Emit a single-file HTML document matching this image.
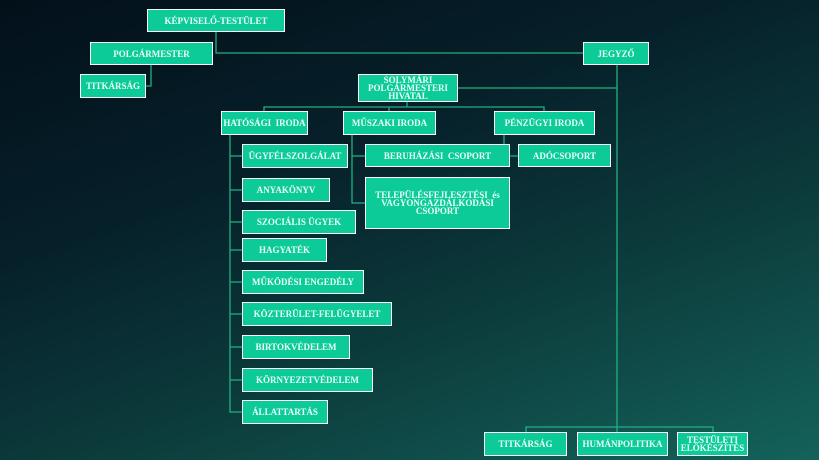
<!DOCTYPE html>
<html><head><meta charset="utf-8"><style>
body{margin:0;width:819px;height:460px;overflow:hidden;position:relative;
background:linear-gradient(160deg,#03101a 0%,#06202a 35%,#0c3c3c 65%,#14625b 100%);
font-family:"Liberation Serif","DejaVu Serif",serif;}
.b{position:absolute;background:#0ccb98;border:1.5px solid #fff;box-sizing:border-box;color:#eafff6;font-weight:bold;font-size:9px;display:flex;align-items:center;justify-content:center;text-align:center;line-height:8px;white-space:nowrap}
svg{position:absolute;left:0;top:0}
</style></head><body>
<svg width="819" height="460"><g stroke="#22b080" stroke-width="1.3" fill="none">
<path d="M216 32V53H583"/>
<path d="M151 65V86H146"/>
<path d="M617 65V427M458 88H617"/>
<path d="M526 432V427H713V432M617 427V432"/>
<path d="M407 102V107M264 111V107H544V111M389 107V111"/>
<path d="M230 135V412H242M230 156H242M230 190H242M230 222H242M230 250H242M230 282H242M230 314H242M230 347H242M230 380H242"/>
<path d="M352 135V203H365M352 156H365"/>
<path d="M504 135V144M510 156H518"/>
</g></svg>
<div class="b" style="left:147px;top:9px;width:138px;height:23px">KÉPVISELŐ-TESTÜLET</div>
<div class="b" style="left:90px;top:42px;width:123px;height:23px">POLGÁRMESTER</div>
<div class="b" style="left:80px;top:74px;width:66px;height:24px">TITKÁRSÁG</div>
<div class="b" style="left:583px;top:42px;width:66px;height:23px">JEGYZŐ</div>
<div class="b" style="left:358px;top:74px;width:100px;height:28px">SOLYMÁRI<br>POLGÁRMESTERI<br>HIVATAL</div>
<div class="b" style="left:221px;top:111px;width:87px;height:24px">HATÓSÁGI&nbsp; IRODA</div>
<div class="b" style="left:343px;top:111px;width:93px;height:24px">MŰSZAKI IRODA</div>
<div class="b" style="left:494px;top:111px;width:101px;height:24px">PÉNZÜGYI IRODA</div>
<div class="b" style="left:242px;top:144px;width:106px;height:24px">ÜGYFÉLSZOLGÁLAT</div>
<div class="b" style="left:242px;top:178px;width:88px;height:24px">ANYAKÖNYV</div>
<div class="b" style="left:242px;top:210px;width:114px;height:24px">SZOCIÁLIS ÜGYEK</div>
<div class="b" style="left:242px;top:238px;width:85px;height:24px">HAGYATÉK</div>
<div class="b" style="left:242px;top:270px;width:122px;height:24px">MŰKÖDÉSI ENGEDÉLY</div>
<div class="b" style="left:242px;top:302px;width:150px;height:24px">KÖZTERÜLET-FELÜGYELET</div>
<div class="b" style="left:242px;top:335px;width:108px;height:24px">BIRTOKVÉDELEM</div>
<div class="b" style="left:242px;top:368px;width:131px;height:24px">KÖRNYEZETVÉDELEM</div>
<div class="b" style="left:242px;top:400px;width:86px;height:24px">ÁLLATTARTÁS</div>
<div class="b" style="left:365px;top:144px;width:145px;height:23px">BERUHÁZÁSI&nbsp; CSOPORT</div>
<div class="b" style="left:518px;top:144px;width:93px;height:23px">ADÓCSOPORT</div>
<div class="b" style="left:365px;top:177px;width:145px;height:52px">TELEPÜLÉSFEJLESZTÉSI&nbsp; és<br>VAGYONGAZDÁLKODÁSI<br>CSOPORT</div>
<div class="b" style="left:484px;top:432px;width:83px;height:24px">TITKÁRSÁG</div>
<div class="b" style="left:577px;top:432px;width:91px;height:24px">HUMÁNPOLITIKA</div>
<div class="b" style="left:677px;top:432px;width:71px;height:24px">TESTÜLETI<br>ELŐKÉSZÍTÉS</div>
</body></html>
